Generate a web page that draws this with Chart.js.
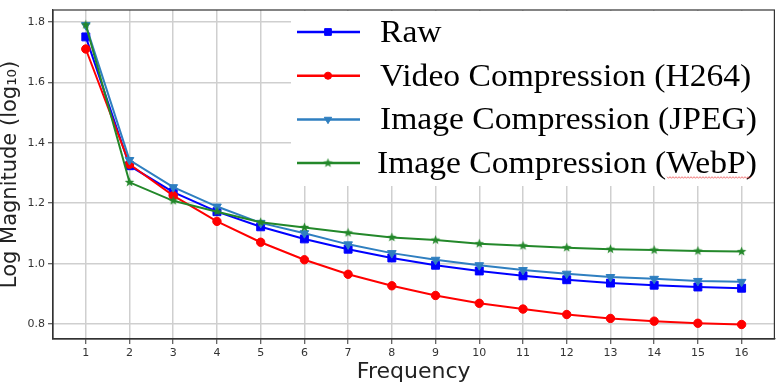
<!DOCTYPE html>
<html>
<head>
<meta charset="utf-8">
<script src="https://cdn.jsdelivr.net/npm/chart.js@4.4.0/dist/chart.umd.min.js"></script>
<style>
    html, body { margin: 0; padding: 0; background: #fff; }
    #contenedor { width: 781px; height: 388px; }
</style>
</head>
<body>
<div id="contenedor"><canvas id="chartMagnitud" width="781" height="388"></canvas></div>
<script>
const frecuencias = [1, 2, 3, 4, 5, 6, 7, 8, 9, 10, 11, 12, 13, 14, 15, 16];
const valoresRaw  = [1.750, 1.324, 1.237, 1.172, 1.122, 1.082, 1.048, 1.019, 0.995, 0.976, 0.960, 0.947, 0.936, 0.929, 0.923, 0.919];
const valoresH264 = [1.710, 1.329, 1.225, 1.140, 1.071, 1.013, 0.965, 0.927, 0.895, 0.869, 0.850, 0.832, 0.819, 0.810, 0.803, 0.799];
const valoresJPEG = [1.789, 1.343, 1.253, 1.189, 1.135, 1.101, 1.064, 1.035, 1.013, 0.995, 0.979, 0.967, 0.956, 0.950, 0.943, 0.940];
const valoresWebP = [1.790, 1.269, 1.208, 1.172, 1.137, 1.120, 1.102, 1.087, 1.078, 1.066, 1.059, 1.053, 1.048, 1.045, 1.042, 1.040];
const ticksY = [0.8, 1.0, 1.2, 1.4, 1.6, 1.8];
const nombres = ["Raw", "Video Compression (H264)", "Image Compression (JPEG)", "Image Compression (WebP)"];

const VERDE = "#23882a";

// estrella rellena (marcador '*' de matplotlib)
function crearEstrella(tam, color) {
    const c = document.createElement("canvas");
    c.width = tam; c.height = tam;
    const g = c.getContext("2d");
    const cx = tam / 2, cy = tam / 2, rExt = tam / 2 - 0.5, rInt = rExt * 0.42;
    g.beginPath();
    for (let i = 0; i < 10; i++) {
        const r = i % 2 === 0 ? rExt : rInt;
        const a = -Math.PI / 2 + i * Math.PI / 5;
        g.lineTo(cx + r * Math.cos(a), cy + r * Math.sin(a));
    }
    g.closePath();
    g.fillStyle = color;
    g.fill();
    return c;
}
const estrella = crearEstrella(11, VERDE);

const puntos = arr => arr.map((v, i) => ({ x: frecuencias[i], y: v }));

const serie = (label, data, color, estilo, radio, rot, orden) => ({
    label,
    data: puntos(data),
    borderColor: color,
    backgroundColor: color,
    borderWidth: 2,
    pointStyle: estilo,
    pointRadius: radio,
    pointRotation: rot,
    pointBorderWidth: 1,
    order: orden,
    tension: 0
});

// leyenda estilo imagen pegada (serif grande) + marco del grafico
const pluginExtras = {
    id: "extras",
    afterDraw(chart) {
        const { ctx, chartArea } = chart;
        ctx.save();

        // caja de la leyenda
        ctx.fillStyle = "#ffffff";
        ctx.fillRect(291, 11, 483, 175);

        chart.data.datasets.forEach((ds, i) => {
            const y = 32 + i * 43.7;
            ctx.strokeStyle = ds.borderColor;
            ctx.lineWidth = 2.5;
            ctx.beginPath();
            ctx.moveTo(297, y);
            ctx.lineTo(360, y);
            ctx.stroke();
            ctx.fillStyle = ds.backgroundColor;
            ctx.strokeStyle = ds.borderColor;
            ctx.lineWidth = 1;
            Chart.helpers.drawPoint(ctx, {
                pointStyle: ds.pointStyle,
                radius: ds.pointRadius * 0.85,
                rotation: ds.pointRotation,
                borderWidth: 1
            }, 328, y);

            ctx.save();
            ctx.translate(i === 3 ? 377 : 380, y + 10);
            ctx.scale(1.05, 1);
            ctx.fillStyle = "#000";
            ctx.font = "32px 'Liberation Serif', 'Times New Roman', serif";
            ctx.textBaseline = "alphabetic";
            ctx.textAlign = "left";
            ctx.fillText(ds.label, 0, 0);
            ctx.restore();
        });

        // subrayado ondulado bajo "WebP"
        ctx.strokeStyle = "rgba(230,40,40,0.8)";
        ctx.lineWidth = 0.8;
        ctx.beginPath();
        for (let x = 667; x <= 752; x += 1.5) {
            const yy = 177.5 + (Math.round((x - 667) / 1.5) % 2 === 0 ? -0.8 : 0.8);
            if (x === 667) ctx.moveTo(x, yy); else ctx.lineTo(x, yy);
        }
        ctx.stroke();

        // marco (spines)
        ctx.strokeStyle = "#333";
        ctx.lineWidth = 1.2;
        ctx.strokeRect(chartArea.left, chartArea.top, chartArea.right - chartArea.left, chartArea.bottom - chartArea.top);
        ctx.restore();
    }
};

const fuenteTicks = { family: "'DejaVu Sans', sans-serif", size: 11 };
const grilla = { color: "#cfcfcf", lineWidth: 1.5, tickLength: 5, tickColor: "#333", tickWidth: 1 };

new Chart(document.getElementById("chartMagnitud").getContext("2d"), {
    type: "line",
    data: {
        datasets: [
            serie(nombres[0], valoresRaw, "#0000ff", "rect", 5.6, 0, 4),
            serie(nombres[1], valoresH264, "#ff0000", "circle", 4.2, 0, 3),
            serie(nombres[2], valoresJPEG, "#2f7fc0", "triangle", 5, 180, 2),
            serie(nombres[3], valoresWebP, VERDE, estrella, 5, 0, 1)
        ]
    },
    options: {
        responsive: false,
        animation: false,
        devicePixelRatio: 1,
        layout: { padding: { top: 10, right: 6, left: 0, bottom: 0 } },
        plugins: { legend: { display: false }, tooltip: { enabled: false } },
        scales: {
            x: {
                type: "linear",
                min: 0.25,
                max: 16.75,
                afterBuildTicks: s => { s.ticks = frecuencias.map(v => ({ value: v })); },
                afterFit: s => { s.height = 49; },
                ticks: { font: fuenteTicks, color: "#333", padding: 3, autoSkip: false, maxRotation: 0 },
                grid: grilla,
                border: { color: "#333", width: 1.2 },
                title: {
                    display: true,
                    text: "Frequency",
                    color: "#222",
                    font: { family: "'DejaVu Sans', sans-serif", size: 22, lineHeight: 1 },
                    padding: { top: 0, bottom: 5 }
                }
            },
            y: {
                min: 0.751,
                max: 1.839,
                afterBuildTicks: s => { s.ticks = ticksY.map(v => ({ value: v })); },
                afterFit: s => { s.width = 53; },
                ticks: { font: fuenteTicks, color: "#333", padding: 3, callback: v => v.toFixed(1) },
                grid: grilla,
                border: { color: "#333", width: 1.2 },
                title: {
                    display: true,
                    text: "Log Magnitude (log\u2081\u2080)",
                    color: "#222",
                    font: { family: "'DejaVu Sans', sans-serif", size: 21, lineHeight: 1 },
                    padding: { top: 0, bottom: 0 }
                }
            }
        }
    },
    plugins: [pluginExtras]
});
</script>
</body>
</html>
